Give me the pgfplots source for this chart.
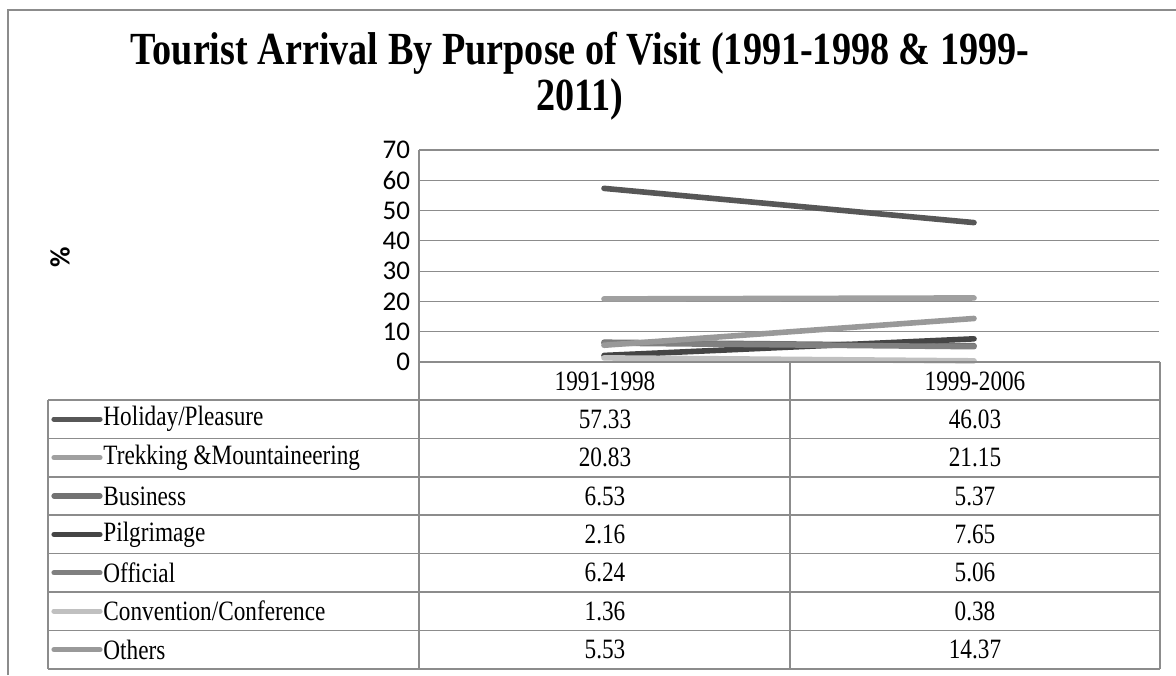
\documentclass[border=0pt]{standalone}
\usepackage{pgfplots}
\usepackage{pgfplotstable}
\pgfplotsset{compat=1.18}
\usepackage{fontspec}
\setmainfont{Liberation Serif}[FakeStretch=0.83]
\newfontfamily\calfont{Carlito}

\definecolor{framegray}{HTML}{8C8C8C}
\definecolor{gridgray}{HTML}{8C8C8C}
\definecolor{cHol}{HTML}{575757}
\definecolor{cTrek}{HTML}{A0A0A0}
\definecolor{cBus}{HTML}{727272}
\definecolor{cPil}{HTML}{454545}
\definecolor{cOff}{HTML}{808080}
\definecolor{cCon}{HTML}{C0C0C0}
\definecolor{cOth}{HTML}{999999}

% share of arrivals (%) by purpose of visit
\pgfplotstableread{
period x holiday trekking business pilgrimage official convention others
1991-1998 0.5 57.33 20.83 6.53 2.16 6.24 1.36 5.53
1999-2006 1.5 46.03 21.15 5.37 7.65 5.06 0.38 14.37
}\purposedata

\begin{document}
\begin{tikzpicture}[x=0.5pt,y=0.5pt]
\useasboundingbox (0,0) rectangle (1176,675);
\coordinate (plotorigin) at (419,313);

% outer frame
\draw[framegray, line width=1pt] (8,0) -- (8,665) -- (1176,665);

% title
\node[font=\bfseries\fontsize{23}{23}\selectfont, align=center] at (580,599)
  {Tourist Arrival By Purpose of Visit (1991-1998 \& 1999-\\2011)};

% y label
\node[font=\calfont\bfseries\fontsize{14}{16}\selectfont, rotate=90] at (60,418) {\%};

\begin{axis}[
  at={(plotorigin)}, anchor=south west,
  scale only axis, width=370pt, height=106pt,
  xmin=0, xmax=2, ymin=0, ymax=70,
  ytick={0,10,...,70}, xtick=\empty,
  ymajorgrids, grid style={gridgray, line width=0.6pt},
  axis line style={draw=none}, major tick length=0pt,
  /pgf/number format/assume math mode=true,
  yticklabel style={font=\calfont\fontsize{13.5}{15}\selectfont, xshift=-1pt},
  clip=false,
  every axis plot/.append style={line width=2.8pt, line cap=round, mark=none},
]
\addplot[cHol]  table[x=x, y=holiday]    {\purposedata};
\addplot[cTrek] table[x=x, y=trekking]   {\purposedata};
\addplot[cBus]  table[x=x, y=business]   {\purposedata};
\addplot[cPil]  table[x=x, y=pilgrimage] {\purposedata};
\addplot[cOff]  table[x=x, y=official]   {\purposedata};
\addplot[cCon]  table[x=x, y=convention] {\purposedata};
\addplot[cOth]  table[x=x, y=others]     {\purposedata};
\end{axis}

% data table beneath the plot
\begin{scope}[gridgray, line width=0.8pt]
  \draw (419,525) -- (419,6);
  \draw (790,313) -- (790,6);
  \draw (1160,313) -- (1160,6);
  \draw (419,313) -- (1160,313);
  \draw (48,275) -- (48,6);
  \foreach \r in {0,...,7} {
    \draw (48,{275-38.4*\r}) -- (1160,{275-38.4*\r});
  }
\end{scope}

\begin{scope}[font=\fontsize{14}{16}\selectfont]
  \node at (605,294) {1991-1998};
  \node at (975,294) {1999-2006};
  \foreach \key/\lab/\col [count=\i from 0] in {
      holiday/{Holiday/Pleasure}/cHol,
      trekking/{Trekking \&Mountaineering}/cTrek,
      business/{Business}/cBus,
      pilgrimage/{Pilgrimage}/cPil,
      official/{Official}/cOff,
      convention/{Convention/Conference}/cCon,
      others/{Others}/cOth} {
    \pgfmathsetmacro\yy{255.8-38.4*\i}
    \draw[\col, line width=2.6pt, line cap=round] (54,\yy) -- (100,\yy);
    \node[anchor=west, inner sep=0pt] at (103,\yy) {\lab};
    \pgfplotstablegetelem{0}{\key}\of\purposedata
    \node at (605,\yy) {\pgfplotsretval};
    \pgfplotstablegetelem{1}{\key}\of\purposedata
    \node at (975,\yy) {\pgfplotsretval};
  }
\end{scope}
\end{tikzpicture}
\end{document}
